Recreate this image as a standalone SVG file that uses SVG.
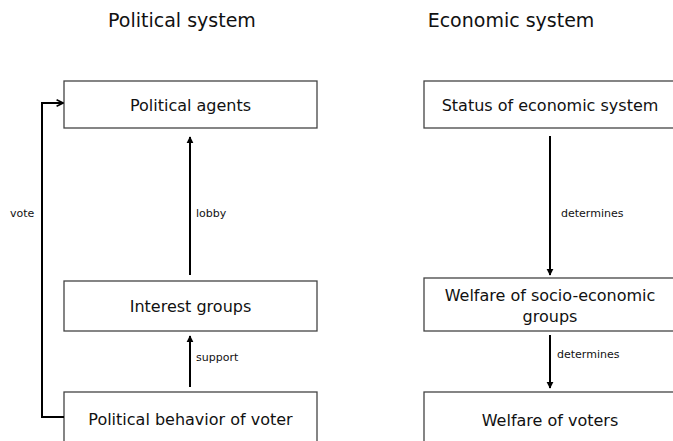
<svg xmlns="http://www.w3.org/2000/svg" width="673" height="441" viewBox="0 0 673 441">
<defs>
<style>
.box{fill:#fff;stroke:#444;stroke-width:1.3}
.t{font-family:"DejaVu Sans",Verdana,sans-serif;font-size:16px;fill:#111;text-anchor:middle;dominant-baseline:central}
.h{font-family:"DejaVu Sans",Verdana,sans-serif;font-size:19px;fill:#111;text-anchor:middle}
.l{font-family:"DejaVu Sans",Verdana,sans-serif;font-size:11px;fill:#111}
.c{fill:none;stroke:#000;stroke-width:2}
</style>
<marker id="ah" viewBox="0 0 10 10" refX="9" refY="5" markerWidth="3.5" markerHeight="4" orient="auto" markerUnits="strokeWidth">
<path d="M0,0 L10,5 L0,10 z" fill="#000"/>
</marker>
<marker id="ch" viewBox="0 0 10 10" refX="9" refY="5" markerWidth="4" markerHeight="5" orient="auto" markerUnits="strokeWidth">
<path d="M1,1 L9,5 L1,9" fill="none" stroke="#000" stroke-width="2"/>
</marker>
</defs>
<text class="h" x="182" y="27">Political system</text>
<text class="h" x="511" y="27">Economic system</text>
<g id="political-agents"><rect class="box" x="64" y="81" width="253" height="47"/><text class="t" x="190.5" y="105">Political agents</text></g>
<g id="interest-groups"><rect class="box" x="64" y="281" width="253" height="50"/><text class="t" x="190.5" y="306">Interest groups</text></g>
<g id="political-behavior"><rect class="box" x="64" y="392" width="253" height="60"/><text class="t" x="190.5" y="419">Political behavior of voter</text></g>
<g id="status-economic"><rect class="box" x="424" y="81" width="253" height="47"/><text class="t" x="550" y="105">Status of economic system</text></g>
<g id="welfare-groups"><rect class="box" x="424" y="278" width="253" height="53"/><text class="t" x="550" y="295">Welfare of socio-economic</text><text class="t" x="550" y="316">groups</text></g>
<g id="welfare-voters"><rect class="box" x="424" y="392" width="253" height="60"/><text class="t" x="550" y="420">Welfare of voters</text></g>
<g id="connectors">
<line class="c" x1="190" y1="275" x2="190" y2="137" marker-end="url(#ah)"/>
<line class="c" x1="190" y1="387" x2="190" y2="336" marker-end="url(#ah)"/>
<polyline class="c" points="64,417 42,417 42,103 63,103" marker-end="url(#ch)"/>
<line class="c" x1="550" y1="136" x2="550" y2="275" marker-end="url(#ah)"/>
<line class="c" x1="550" y1="335" x2="550" y2="388" marker-end="url(#ah)"/>
<text class="l" x="10" y="217">vote</text>
<text class="l" x="196" y="217">lobby</text>
<text class="l" x="196" y="361">support</text>
<text class="l" x="561" y="217">determines</text>
<text class="l" x="557" y="358">determines</text>
</g>
</svg>
